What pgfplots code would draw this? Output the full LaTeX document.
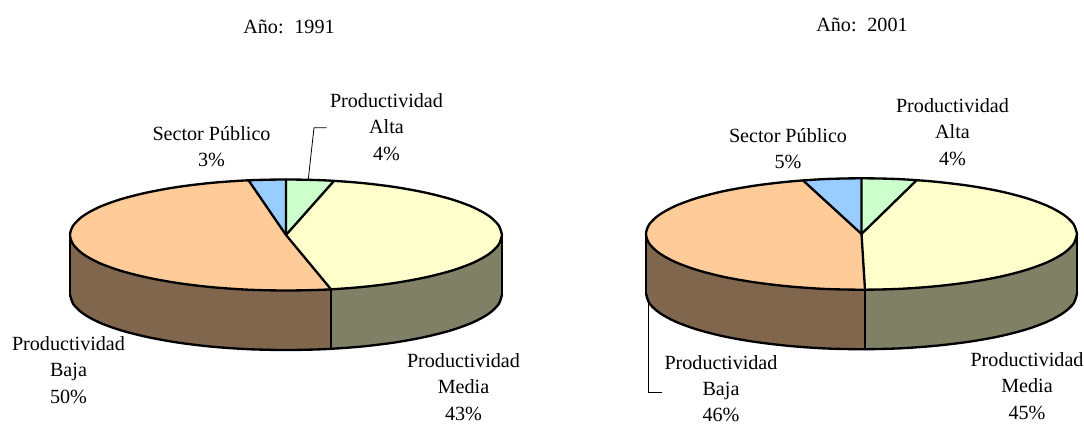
\documentclass[border=0pt]{standalone}
\usepackage{pgfplots}
\pgfplotsset{compat=1.18}
\usepackage{fontspec}
\setmainfont{Liberation Serif}
\definecolor{cOr}{HTML}{FFCC99}
\definecolor{cYe}{HTML}{FFFFCC}
\definecolor{cGr}{HTML}{CCFFCC}
\definecolor{cBl}{HTML}{99CCFF}
\definecolor{cBr}{HTML}{80664D}
\definecolor{cOl}{HTML}{808066}
\begin{document}
\begin{tikzpicture}
\begin{axis}[
  scale only axis, width=813pt, height=318pt,
  xmin=0, xmax=1084, ymin=0, ymax=424, y dir=reverse,
  hide axis, clip=false,
  every axis plot/.append style={line join=round, line cap=round}
]
\path (axis cs:0,0) rectangle (axis cs:1084,424);
% ---------- PIE 1991 ----------
\addplot[draw=none, fill=cOl] coordinates {(331,289.3)(359.9,287.2)(394,283.1)(424.8,277.5)(451.5,270.7)(473.1,262.8)(489,254)(498.7,244.6)(502,235)(502,294.5)(498.7,304.1)(489,313.5)(473.1,322.3)(451.5,330.2)(424.8,337)(394,342.6)(359.9,346.7)(331,348.8)};
\addplot[draw=none, fill=cBr] coordinates {(331,289.3)(286,290.5)(248.5,289.7)(212.1,287.2)(178,283.1)(147.2,277.5)(120.5,270.7)(98.9,262.8)(83,254)(73.3,244.6)(70,235)(70,294.5)(73.3,304.1)(83,313.5)(98.9,322.3)(120.5,330.2)(147.2,337)(178,342.6)(212.1,346.7)(248.5,349.2)(286,350)(331,348.8)};
\addplot[draw=none, fill=cGr] coordinates {(286,235)(286,179.5)(323.5,180.3)(334,180.9)};
\addplot[draw=none, fill=cYe] coordinates {(286,235)(334,180.9)(359.9,182.8)(394,186.9)(424.8,192.5)(451.5,199.3)(473.1,207.2)(489,216)(498.7,225.4)(502,235)(498.7,244.6)(489,254)(473.1,262.8)(451.5,270.7)(424.8,277.5)(394,283.1)(359.9,287.2)(331,289.3)};
\addplot[draw=none, fill=cOr] coordinates {(286,235)(331,289.3)(286,290.5)(248.5,289.7)(212.1,287.2)(178,283.1)(147.2,277.5)(120.5,270.7)(98.9,262.8)(83,254)(73.3,244.6)(70,235)(73.3,225.4)(83,216)(98.9,207.2)(120.5,199.3)(147.2,192.5)(178,186.9)(212.1,182.8)(248.5,180.3)};
\addplot[draw=none, fill=cBl] coordinates {(286,235)(248.5,180.3)(286,179.5)};
\addplot[black, line width=1.75pt, smooth] coordinates {(502,235)(498.7,225.4)(489,216)(473.1,207.2)(451.5,199.3)(424.8,192.5)(394,186.9)(359.9,182.8)(323.5,180.3)(286,179.5)(248.5,180.3)(212.1,182.8)(178,186.9)(147.2,192.5)(120.5,199.3)(98.9,207.2)(83,216)(73.3,225.4)(70,235)(73.3,244.6)(83,254)(98.9,262.8)(120.5,270.7)(147.2,277.5)(178,283.1)(212.1,287.2)(248.5,289.7)(286,290.5)(323.5,289.7)(359.9,287.2)(394,283.1)(424.8,277.5)(451.5,270.7)(473.1,262.8)(489,254)(498.7,244.6)(502,235)};
\addplot[black, line width=1.75pt, smooth] coordinates {(70,294.5)(73.3,304.1)(83,313.5)(98.9,322.3)(120.5,330.2)(147.2,337)(178,342.6)(212.1,346.7)(248.5,349.2)(286,350)(323.5,349.2)(359.9,346.7)(394,342.6)(424.8,337)(451.5,330.2)(473.1,322.3)(489,313.5)(498.7,304.1)(502,294.5)};
\addplot[black, line width=1.75pt] coordinates {(70,235)(70,294.5)};
\addplot[black, line width=1.75pt] coordinates {(502,235)(502,294.5)};
\addplot[black, line width=1.75pt] coordinates {(331,289.3)(331,348.8)};
\addplot[black, line width=1.75pt] coordinates {(248.5,180.3)(286,235)(331,289.3)};
\addplot[black, line width=1.75pt] coordinates {(286,179.5)(286,235)(334,180.9)};
\addplot[black, line width=0.6pt, line cap=butt] coordinates {(308.3,179)(314,127.7)(326.7,127.7)};
% ---------- PIE 2001 ----------
\addplot[draw=none, fill=cOl] coordinates {(865,289.7)(898.9,288.9)(935.2,286.3)(969.25,282.2)(1000,276.7)(1026.6,269.8)(1048.1,261.85)(1064,253)(1073.7,243.7)(1077,234)(1077,293.5)(1073.7,303.2)(1064,312.5)(1048.1,321.35)(1026.6,329.3)(1000,336.2)(969.25,341.7)(935.2,345.8)(898.9,348.4)(865,349.2)};
\addplot[draw=none, fill=cBr] coordinates {(865,289.7)(861.5,289.7)(824.1,288.9)(787.8,286.3)(753.75,282.2)(723,276.7)(696.4,269.8)(674.9,261.85)(659,253)(649.3,243.7)(646,234)(646,293.5)(649.3,303.2)(659,312.5)(674.9,321.35)(696.4,329.3)(723,336.2)(753.75,341.7)(787.8,345.8)(824.1,348.4)(861.5,349.2)(865,349.2)};
\addplot[draw=none, fill=cGr] coordinates {(861.5,234)(861.5,178.3)(898.9,179.1)(916.7,180.2)};
\addplot[draw=none, fill=cYe] coordinates {(861.5,234)(916.7,180.2)(935.2,181.7)(969.25,185.8)(1000,191.3)(1026.6,198.2)(1048.1,206.15)(1064,215)(1073.7,224.3)(1077,234)(1073.7,243.7)(1064,253)(1048.1,261.85)(1026.6,269.8)(1000,276.7)(969.25,282.2)(935.2,286.3)(898.9,288.9)(865,289.7)};
\addplot[draw=none, fill=cOr] coordinates {(861.5,234)(865,289.7)(861.5,289.7)(824.1,288.9)(787.8,286.3)(753.75,282.2)(723,276.7)(696.4,269.8)(674.9,261.85)(659,253)(649.3,243.7)(646,234)(649.3,224.3)(659,215)(674.9,206.15)(696.4,198.2)(723,191.3)(753.75,185.8)(787.8,181.7)(803,180.4)};
\addplot[draw=none, fill=cBl] coordinates {(861.5,234)(803,180.4)(824.1,179.1)(861.5,178.3)};
\addplot[black, line width=1.75pt, smooth] coordinates {(1077,234)(1073.7,224.3)(1064,215)(1048.1,206.15)(1026.6,198.2)(1000,191.3)(969.25,185.8)(935.2,181.7)(898.9,179.1)(861.5,178.3)(824.1,179.1)(787.8,181.7)(753.75,185.8)(723,191.3)(696.4,198.2)(674.9,206.15)(659,215)(649.3,224.3)(646,234)(649.3,243.7)(659,253)(674.9,261.85)(696.4,269.8)(723,276.7)(753.75,282.2)(787.8,286.3)(824.1,288.9)(861.5,289.7)(898.9,288.9)(935.2,286.3)(969.25,282.2)(1000,276.7)(1026.6,269.8)(1048.1,261.85)(1064,253)(1073.7,243.7)(1077,234)};
\addplot[black, line width=1.75pt, smooth] coordinates {(646,293.5)(649.3,303.2)(659,312.5)(674.9,321.35)(696.4,329.3)(723,336.2)(753.75,341.7)(787.8,345.8)(824.1,348.4)(861.5,349.2)(898.9,348.4)(935.2,345.8)(969.25,341.7)(1000,336.2)(1026.6,329.3)(1048.1,321.35)(1064,312.5)(1073.7,303.2)(1077,293.5)};
\addplot[black, line width=1.75pt] coordinates {(646,234)(646,293.5)};
\addplot[black, line width=1.75pt] coordinates {(1077,234)(1077,293.5)};
\addplot[black, line width=1.75pt] coordinates {(865,289.7)(865,349.2)};
\addplot[black, line width=1.75pt] coordinates {(803,180.4)(861.5,234)(865,289.7)};
\addplot[black, line width=1.75pt] coordinates {(861.5,178.3)(861.5,234)(916.7,180.2)};
\addplot[black, line width=0.6pt, line cap=butt] coordinates {(648.3,301.7)(648.3,392.3)(661.7,392.3)};
% ---------- TEXT ----------
\tikzset{lab/.style={align=center, inner sep=0pt, font=\fontsize{15.1}{19.7}\selectfont}}
\node[lab] at (axis cs:289,27) {Año:\hspace{0.2em} 1991};
\node[lab] at (axis cs:862,25) {Año:\hspace{0.2em} 2001};
\node[lab] at (axis cs:211.5,146.5) {Sector Público\\3\%};
\node[lab] at (axis cs:386.5,127) {Productividad\\Alta\\4\%};
\node[lab] at (axis cs:68.5,370) {Productividad\\Baja\\50\%};
\node[lab] at (axis cs:463.5,387) {Productividad\\Media\\43\%};
\node[lab] at (axis cs:788,149) {Sector Público\\5\%};
\node[lab] at (axis cs:952.5,132) {Productividad\\Alta\\4\%};
\node[lab] at (axis cs:721,388.5) {Productividad\\Baja\\46\%};
\node[lab] at (axis cs:1027,386) {Productividad\\Media\\45\%};
\end{axis}
\end{tikzpicture}
\end{document}
